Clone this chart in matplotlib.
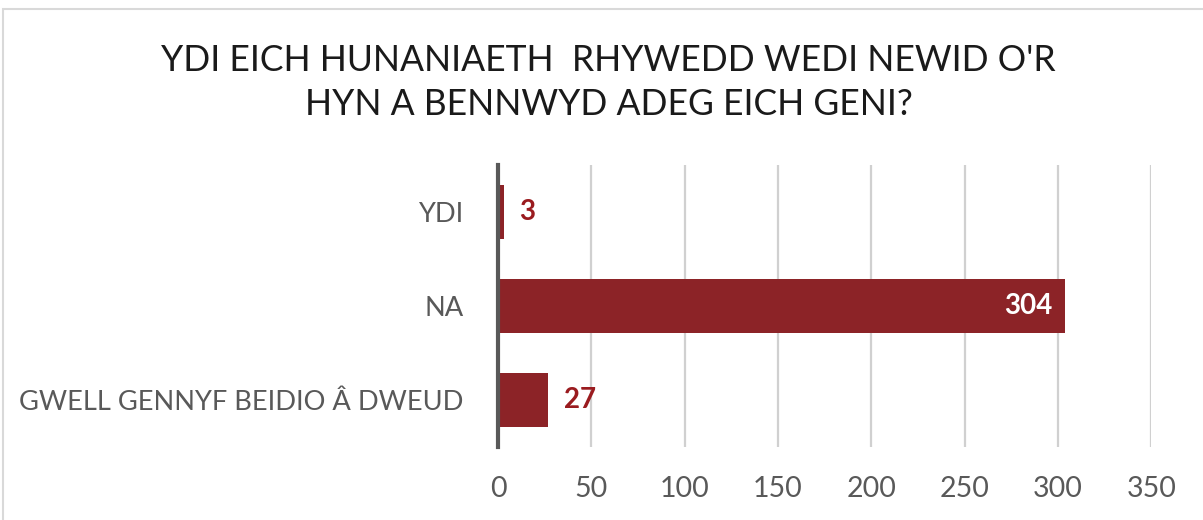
import matplotlib.pyplot as plt
from matplotlib.patches import Rectangle

categories = ["YDI", "NA", "GWELL GENNYF BEIDIO Â DWEUD"]
counts = [3, 304, 27]
x_ticks = [0, 50, 100, 150, 200, 250, 300, 350]
title = "YDI EICH HUNANIAETH  RHYWEDD WEDI NEWID O'R\nHYN A BENNWYD ADEG EICH GENI?"

bar_color = "#8c2327"
label_color = "#9a1b1f"
text_grey = "#595959"

plt.rcParams["font.family"] = ["Lato", "DejaVu Sans"]

fig = plt.figure(figsize=(12.03, 5.2), dpi=100)
ax = fig.add_axes([0.414, 0.140, 0.543, 0.543])

# outer chart frame
fig.patches.append(Rectangle((3 / 1203, -0.1), 1.2, 1 - 9 / 520 + 0.1,
                             transform=fig.transFigure, fill=False,
                             edgecolor="#d9d9d9", linewidth=1.5))

ypos = list(range(len(categories)))
ax.barh(ypos, counts, height=0.57, color=bar_color, zorder=2)

for y, v in zip(ypos, counts):
    if v > 200:
        ax.annotate(str(v), (v, y), xytext=(-9, 0), textcoords="offset points",
                    ha="right", va="center", color="white", fontsize=20,
                    fontweight="bold")
    else:
        ax.annotate(str(v), (v, y), xytext=(11, 0), textcoords="offset points",
                    ha="left", va="center", color=label_color, fontsize=20,
                    fontweight="bold")

ax.set_xlim(0, 350)
ax.set_ylim(2.5, -0.5)
ax.set_xticks(x_ticks)
ax.set_yticks(ypos)
ax.set_yticklabels(categories)
ax.tick_params(axis="both", length=0, labelcolor=text_grey)
ax.tick_params(axis="x", pad=21, labelsize=20.5)
ax.tick_params(axis="y", pad=25, labelsize=19.6)

ax.grid(axis="x", color="#d0d0d0", linewidth=1.6, zorder=0)
for s in ["top", "right", "bottom"]:
    ax.spines[s].set_visible(False)
ax.spines["left"].set_color("#595959")
ax.spines["left"].set_linewidth(3)
ax.spines["left"].set_zorder(3)

fig.text(0.506, 0.841, title, ha="center", va="center", fontsize=25.6,
         color="#1a1a1a", linespacing=1.4)

fig.savefig("out.png", dpi=100)
